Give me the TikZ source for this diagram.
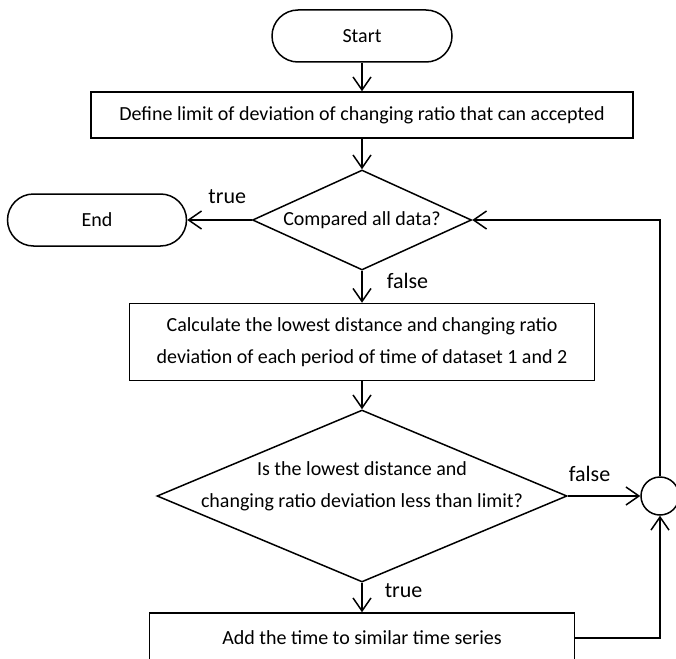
\documentclass[tikz,border=0pt]{standalone}
\usepackage{fontspec}
\setmainfont{Carlito}
\usepackage{tikz}
\usetikzlibrary{positioning,shapes.geometric,arrows.meta,calc}

\tikzset{
  boxtext/.style={font=\fontsize{20}{32}\selectfont, align=center},
  terminal/.style={draw, rounded corners=26pt, minimum width=180pt,
                   minimum height=52pt, boxtext},
  process/.style={draw, rectangle, inner sep=0pt, boxtext},
  decision/.style={draw, diamond, inner sep=0pt, boxtext},
  joint/.style={draw, circle, minimum size=38pt, inner sep=0pt},
  flow/.style={-{Straight Barb[length=13pt,width=18pt]}},
  lbl/.style={font=\fontsize{22}{26}\selectfont, inner sep=2pt}
}

\begin{document}
\begin{tikzpicture}[x=1pt, y=-1pt, line width=1.5pt]
  % Cadre de la figure (coupe la dernière boîte en bas)
  \fill[white] (0,0) rectangle (676,658);
  \clip (0,0) rectangle (676,658);

  % Début et fin
  \node[terminal] (start) at (362,36) {Start};
  \node[terminal, minimum width=179pt] (end) at (97,220) {End};

  % Étapes
  \node[process, minimum width=542pt, minimum height=46pt] (define) at (362,115)
    {Define limit of deviation of changing ratio that can accepted};
  \node[decision, minimum width=219pt, minimum height=100pt, aspect=2.19] (compared) at (362,220)
    {Compared all data?};
  \node[process, minimum width=465pt, minimum height=77pt] (calc) at (362,342)
    {Calculate the lowest distance and changing ratio\\
     deviation of each period of time of dataset 1 and 2};
  \node[decision, minimum width=410pt, minimum height=172pt, aspect=2.38,
        label={[boxtext, yshift=10pt]center:Is the lowest distance and\\changing ratio deviation less than limit?}]
    (lowest) at (362,496) {};
  \node[process, minimum width=425pt, minimum height=50pt] (add) at (362,638)
    {Add the time to similar time series};

  % Point de jonction de la boucle
  \node[joint] (join) at (660,496) {};

  % Liaisons
  \draw[flow] (start) -- (define);
  \draw[flow] (define) -- (compared);
  \draw[flow] (compared) -- node[lbl, pos=0.38, above=14pt] {true} (end);
  \draw[flow] (compared) -- node[lbl, pos=0.33, right=22pt] {false} (calc);
  \draw[flow] (calc) -- (lowest);
  \draw[flow] (lowest) -- node[lbl, pos=0.3, above=12pt] {false} (join);
  \draw[flow] (lowest) -- node[lbl, pos=0.25, right=20pt] {true} (add);
  \draw[flow] (add.east) -| (join.south);
  \draw[flow] (join.north) |- (compared.east);
\end{tikzpicture}
\end{document}
